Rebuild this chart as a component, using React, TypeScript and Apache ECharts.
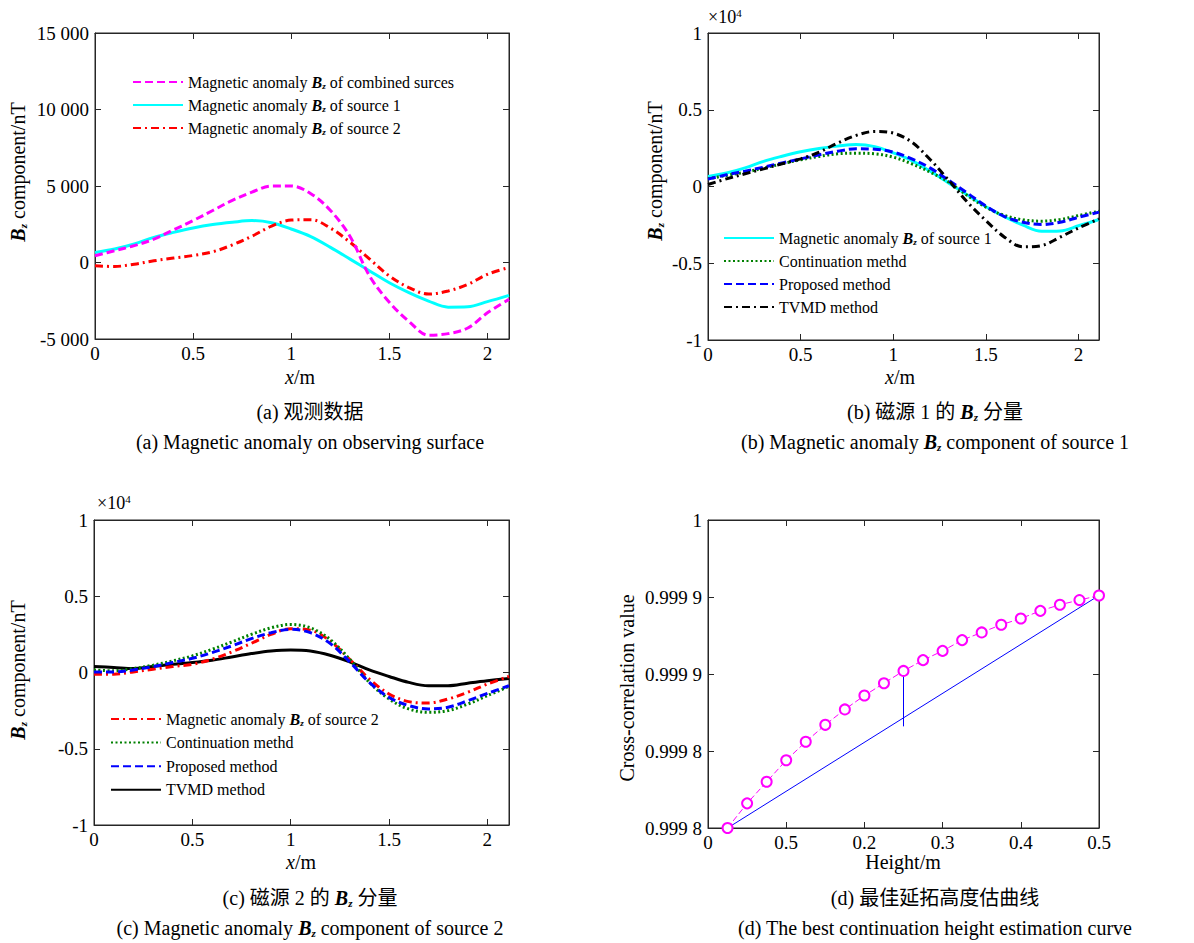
import React, { useEffect, useRef } from "react";
import * as echarts from "echarts";

const SERIF = "'Liberation Serif', 'Times New Roman', serif";
const CJK = "'Liberation Serif', 'Noto Sans CJK SC', sans-serif";

// ---------- shared x positions (m) for panels a, b, c ----------
const xPos = [0, 0.1, 0.2, 0.3, 0.4, 0.5, 0.6, 0.7, 0.8, 0.9, 1.0, 1.1, 1.2, 1.3, 1.4, 1.5, 1.6, 1.7, 1.8, 1.9, 2.0, 2.11];
const xTickValues = [0, 0.5, 1, 1.5, 2];
const xTickLabels = ["0", "0.5", "1", "1.5", "2"];

// ---------- (a) observed data, nT ----------
const combinedA = [440, 770, 1100, 1530, 2130, 2740, 3400, 4060, 4600, 5000, 5000, 4500, 3400, 1700, -900, -2600, -3850, -4750, -4650, -4280, -3290, -2410];
const source1 = [660, 880, 1210, 1640, 1970, 2260, 2480, 2630, 2740, 2600, 2190, 1690, 990, 220, -550, -1320, -1970, -2520, -2920, -2900, -2560, -2150];
const source2A = [-220, -260, -110, 110, 290, 460, 700, 1150, 1720, 2380, 2770, 2800, 2250, 1320, 220, -880, -1640, -2060, -1860, -1430, -770, -330];
const yTicksA = [-5000, 0, 5000, 10000, 15000];
const yLabelsA = ["-5 000", "0", "5 000", "10 000", "15 000"];

// ---------- (b) source 1 reconstructions, nT ----------
const continuationB = [500, 720, 930, 1200, 1480, 1740, 1960, 2130, 2170, 2130, 1910, 1480, 930, 280, -590, -1350, -1890, -2170, -2260, -2150, -1890, -1610];
const proposedB = [480, 760, 1000, 1260, 1540, 1800, 2070, 2300, 2460, 2430, 2240, 1800, 1200, 390, -430, -1280, -1960, -2330, -2480, -2330, -2000, -1670];
const tvmdB = [130, 500, 830, 1150, 1480, 1800, 2240, 2830, 3330, 3590, 3480, 2890, 1740, 390, -1020, -2220, -3300, -3930, -3850, -3300, -2700, -2110];

// ---------- (c) source 2 reconstructions, nT ----------
const source2C = [-110, -110, 40, 220, 390, 540, 870, 1350, 1910, 2500, 2870, 2780, 2070, 870, -430, -1410, -1910, -2000, -1740, -1300, -760, -260];
const continuationC = [170, 110, 260, 480, 760, 1090, 1520, 2000, 2500, 2930, 3150, 2930, 2170, 870, -650, -1740, -2390, -2610, -2500, -2070, -1520, -910];
const proposedC = [40, 40, 170, 390, 650, 930, 1300, 1740, 2220, 2610, 2830, 2610, 1910, 700, -650, -1630, -2170, -2390, -2280, -1850, -1370, -870];
const tvmdC = [390, 330, 260, 390, 540, 650, 800, 1020, 1240, 1410, 1480, 1410, 1130, 700, 170, -260, -650, -870, -870, -700, -540, -390];

// ---------- (d) best continuation height ----------
const heights = [0.025, 0.05, 0.075, 0.1, 0.125, 0.15, 0.175, 0.2, 0.225, 0.25, 0.275, 0.3, 0.325, 0.35, 0.375, 0.4, 0.425, 0.45, 0.475, 0.5];
const corr = [0.9998, 0.999816, 0.99983, 0.999844, 0.999856, 0.999867, 0.999877, 0.999886, 0.999894, 0.999902, 0.999909, 0.999915, 0.999922, 0.999927, 0.999932, 0.999936, 0.999941, 0.999945, 0.999948, 0.999951];
const chordX = [0.025, 0.5];
const chordY = [0.9998, 0.999951];
const markX = [0.25, 0.25];
const markY = [0.999902, 0.999866];
const dXLabels = ["0", "0.5", "0.2", "0.3", "0.4", "0.5"];
const dYLabels = ["0.999 8", "0.999 8", "0.999 9", "0.999 9", "1"];

function rich(size: number) {
  const sub = Math.round(size * 0.55);
  return {
    t: { fontFamily: SERIF, fontSize: size, lineHeight: size + 2 },
    i: { fontFamily: SERIF, fontSize: size, fontStyle: "italic", lineHeight: size + 2 },
    c: { fontFamily: CJK, fontSize: size, lineHeight: size + 2 },
    b: { fontFamily: SERIF, fontSize: size, fontStyle: "italic", fontWeight: "bold", lineHeight: size + 2 },
    s: { fontFamily: SERIF, fontSize: sub, fontStyle: "italic", fontWeight: "bold", padding: [Math.round(size * 0.45), 0, 0, 0] },
    p: { fontFamily: SERIF, fontSize: sub + 1, padding: [0, 0, Math.round(size * 0.45), 0] },
  };
}

const legendText: Record<string, string> = {
  a_comb: "{t|Magnetic anomaly }{b|B}{s|z}{t| of combined surces}",
  a_s1: "{t|Magnetic anomaly }{b|B}{s|z}{t| of source 1}",
  a_s2: "{t|Magnetic anomaly }{b|B}{s|z}{t| of source 2}",
  b_s1: "{t|Magnetic anomaly }{b|B}{s|z}{t| of source 1}",
  b_cont: "{t|Continuation methd}",
  b_prop: "{t|Proposed method}",
  b_tvmd: "{t|TVMD method}",
  c_s2: "{t|Magnetic anomaly }{b|B}{s|z}{t| of source 2}",
  c_cont: "{t|Continuation methd}",
  c_prop: "{t|Proposed method}",
  c_tvmd: "{t|TVMD method}",
};

const grids = [
  { left: 95, top: 33, width: 414, height: 306 },
  { left: 708, top: 33, width: 391, height: 307 },
  { left: 94, top: 520, width: 415, height: 305 },
  { left: 708, top: 520, width: 391, height: 308 },
];

const axisColor = "#262626";

function xAxes(gi: number, min: number, max: number, interval: number, formatter: any) {
  const base = {
    type: "value",
    gridIndex: gi,
    min,
    max,
    interval,
    splitLine: { show: false },
    axisLine: { show: true, onZero: false, lineStyle: { color: axisColor, width: 1 } },
    axisTick: { show: true, inside: true, length: 6, lineStyle: { color: axisColor, width: 1 } },
  };
  return [
    { ...base, position: "bottom", axisLabel: { show: true, color: "#000", fontFamily: SERIF, fontSize: 19, margin: 5, formatter } },
    { ...base, position: "top", axisLabel: { show: false } },
  ];
}

function yAxes(gi: number, min: number, max: number, interval: number, formatter: any) {
  const base = {
    type: "value",
    gridIndex: gi,
    min,
    max,
    interval,
    splitLine: { show: false },
    axisLine: { show: true, onZero: false, lineStyle: { color: axisColor, width: 1 } },
    axisTick: { show: true, inside: true, length: 6, lineStyle: { color: axisColor, width: 1 } },
  };
  return [
    { ...base, position: "left", axisLabel: { show: true, color: "#000", fontFamily: SERIF, fontSize: 19, margin: 6, formatter } },
    { ...base, position: "right", axisLabel: { show: false } },
  ];
}

function line(id: string, gi: number, xs: number[], ys: number[], lineStyle: any, extra: any = {}) {
  return {
    type: "line",
    id,
    name: id,
    xAxisIndex: 2 * gi,
    yAxisIndex: 2 * gi,
    data: xs.map((x, i) => [x, ys[i]]),
    showSymbol: false,
    symbol: "none",
    smooth: 0.35,
    silent: true,
    emphasis: { disabled: true },
    itemStyle: { color: lineStyle.color },
    lineStyle,
    ...extra,
  };
}

const MAG = "#FF00FF";
const CYAN = "#00FFFF";
const RED = "#FF0000";
const GREEN = "#008000";
const BLUE = "#0000FF";
const BLACK = "#000000";
const dashed = [8, 4];
const dashDot = [8, 4, 2, 4];
const dotted = [2, 2.5];

function legend(left: number, top: number, gap: number, data: string[]) {
  return {
    orient: "vertical",
    left,
    top,
    padding: 0,
    itemWidth: 50,
    itemHeight: 14,
    itemGap: gap,
    selectedMode: false,
    data,
    itemStyle: { opacity: 0, borderWidth: 0 },
    formatter: (n: string) => legendText[n],
    textStyle: { color: "#000", fontFamily: SERIF, fontSize: 16, rich: rich(16) },
  };
}

function txt(x: number, y: number, text: string, size: number, opts: any = {}) {
  return {
    type: "text",
    x,
    y,
    rotation: opts.rotation || 0,
    silent: true,
    style: {
      text,
      rich: rich(size),
      fill: "#000",
      fontFamily: SERIF,
      fontSize: size,
      align: opts.align || "center",
      verticalAlign: "middle",
    },
  };
}

export default function App() {
  const ref = useRef<HTMLDivElement>(null);
  useEffect(() => {
    document.body.style.margin = "0";
    document.body.style.background = "#fff";
    if (!ref.current) return;
    const chart = echarts.init(ref.current, null, { renderer: "svg" });
    const xFmt = (v: number) => {
      const k = xTickValues.indexOf(v);
      return k >= 0 ? xTickLabels[k] : "";
    };
    const yFmtA = (v: number) => {
      const k = yTicksA.indexOf(v);
      return k >= 0 ? yLabelsA[k] : "";
    };
    const yFmt4 = (v: number) => String(Math.round(v / 1000) / 10);
    const dxFmt = (v: number) => dXLabels[Math.round(v * 10)] ?? "";
    const dyFmt = (v: number) => dYLabels[Math.round((v - 0.9998) / 0.00005)] ?? "";

    const option: any = {
      animation: false,
      backgroundColor: "#fff",
      textStyle: { fontFamily: SERIF },
      grid: grids.map((g) => ({ ...g, show: true, borderColor: axisColor, borderWidth: 1, backgroundColor: "transparent", containLabel: false })),
      xAxis: [
        ...xAxes(0, 0, 2.11, 0.5, xFmt),
        ...xAxes(1, 0, 2.11, 0.5, xFmt),
        ...xAxes(2, 0, 2.11, 0.5, xFmt),
        ...xAxes(3, 0, 0.5, 0.1, dxFmt),
      ],
      yAxis: [
        ...yAxes(0, -5000, 15000, 5000, yFmtA),
        ...yAxes(1, -10000, 10000, 5000, yFmt4),
        ...yAxes(2, -10000, 10000, 5000, yFmt4),
        ...yAxes(3, 0.9998, 1, 0.00005, dyFmt),
      ],
      legend: [
        legend(132, 74, 7, ["a_comb", "a_s1", "a_s2"]),
        legend(723, 230, 7, ["b_s1", "b_cont", "b_prop", "b_tvmd"]),
        legend(110, 711, 7.6, ["c_s2", "c_cont", "c_prop", "c_tvmd"]),
      ],
      series: [
        line("a_s1", 0, xPos, source1, { color: CYAN, width: 3, type: "solid" }),
        line("a_s2", 0, xPos, source2A, { color: RED, width: 3, type: dashDot }),
        line("a_comb", 0, xPos, combinedA, { color: MAG, width: 3, type: dashed }),

        line("b_s1", 1, xPos, source1, { color: CYAN, width: 3, type: "solid" }),
        line("b_cont", 1, xPos, continuationB, { color: GREEN, width: 3, type: dotted }),
        line("b_prop", 1, xPos, proposedB, { color: BLUE, width: 3, type: dashed }),
        line("b_tvmd", 1, xPos, tvmdB, { color: BLACK, width: 3, type: dashDot }),

        line("c_tvmd", 2, xPos, tvmdC, { color: BLACK, width: 3, type: "solid" }),
        line("c_s2", 2, xPos, source2C, { color: RED, width: 3, type: dashDot }),
        line("c_cont", 2, xPos, continuationC, { color: GREEN, width: 3, type: dotted }),
        line("c_prop", 2, xPos, proposedC, { color: BLUE, width: 3, type: dashed }),

        line("d_chord", 3, chordX, chordY, { color: BLUE, width: 1, type: "solid" }, { smooth: false }),
        line("d_mark", 3, markX, markY, { color: BLUE, width: 1, type: "solid" }, { smooth: false }),
        line("d_corr", 3, heights, corr, { color: MAG, width: 1, type: [6, 3] }, {
          smooth: false,
          showSymbol: true,
          symbol: "emptyCircle",
          symbolSize: 10,
          itemStyle: { color: MAG, borderColor: MAG, borderWidth: 1 },
        }),
      ],
      graphic: [
        // y axis names
        txt(18, 172, "{b|B}{s|z}{t| component/nT}", 20, { rotation: Math.PI / 2 }),
        txt(655, 171, "{b|B}{s|z}{t| component/nT}", 20, { rotation: Math.PI / 2 }),
        txt(18, 670, "{b|B}{s|z}{t| component/nT}", 20, { rotation: Math.PI / 2 }),
        txt(627, 688, "{t|Cross-correlation value}", 20, { rotation: Math.PI / 2 }),
        // x axis names
        txt(300, 377, "{i|x}{t|/m}", 20),
        txt(900, 377, "{i|x}{t|/m}", 20),
        txt(301, 862, "{i|x}{t|/m}", 20),
        txt(903, 862, "{t|Height/m}", 20),
        // exponent labels
        txt(708, 17, "{t|×10}{p|4}", 18, { align: "left" }),
        txt(97, 503, "{t|×10}{p|4}", 18, { align: "left" }),
        // captions
        txt(310, 412, "{t|(a) }{c|观测数据}", 20),
        txt(310, 442, "{t|(a) Magnetic anomaly on observing surface}", 20),
        txt(935, 412, "{t|(b) }{c|磁源}{t| 1 }{c|的}{t| }{b|B}{s|z}{t| }{c|分量}", 20),
        txt(935, 442, "{t|(b) Magnetic anomaly }{b|B}{s|z}{t| component of source 1}", 20),
        txt(310, 898, "{t|(c) }{c|磁源}{t| 2 }{c|的}{t| }{b|B}{s|z}{t| }{c|分量}", 20),
        txt(310, 928, "{t|(c) Magnetic anomaly }{b|B}{s|z}{t| component of source 2}", 20),
        txt(935, 898, "{t|(d) }{c|最佳延拓高度估曲线}", 20),
        txt(935, 928, "{t|(d) The best continuation height estimation curve}", 20),
      ],
    };
    chart.setOption(option);
    return () => chart.dispose();
  }, []);
  return <div ref={ref} style={{ width: 1194, height: 943 }} />;
}
